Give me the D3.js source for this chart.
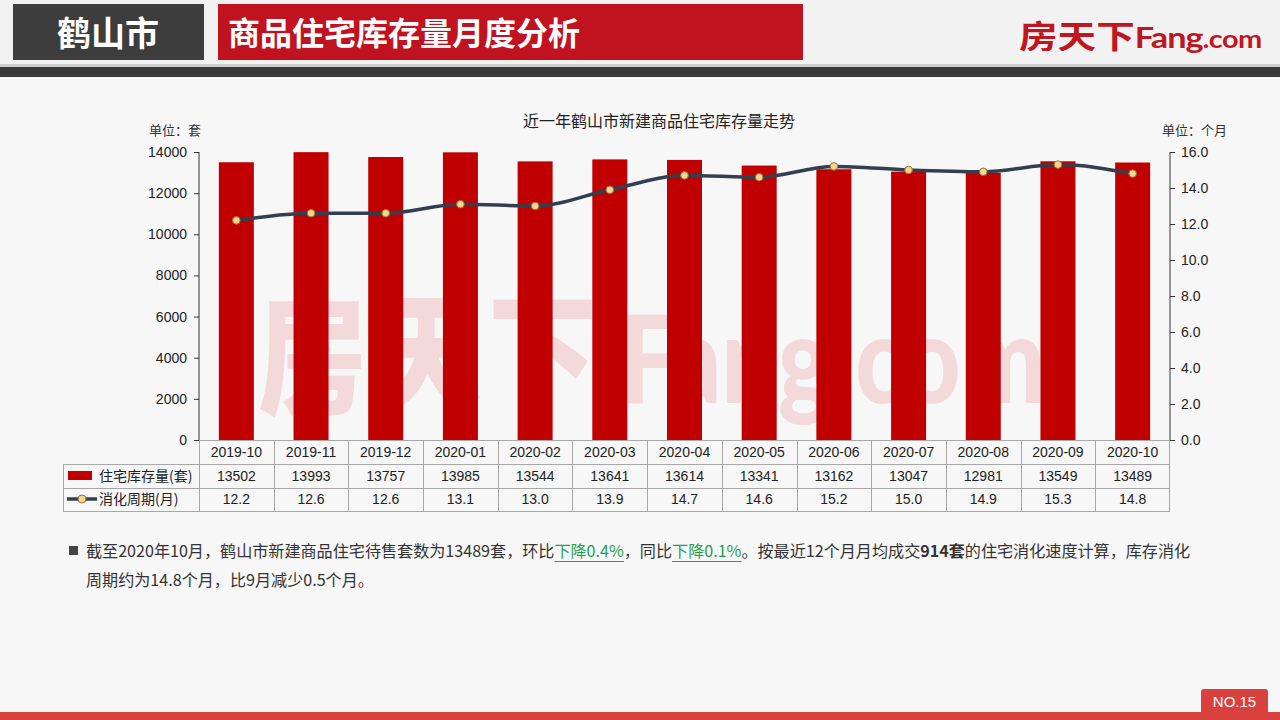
<!DOCTYPE html>
<html><head><meta charset="utf-8">
<script src="https://cdn.jsdelivr.net/npm/d3@7/dist/d3.min.js"></script>
<style>
html,body{margin:0;padding:0;background:#f7f7f7;}
svg{display:block;font-family:"Liberation Sans",Arial,"Noto Sans CJK SC",sans-serif;}
.cjk{font-family:"Noto Sans CJK SC","Liberation Sans",sans-serif;}
</style></head>
<body>
<svg id="c" width="1280" height="720"></svg>
<script>
const months = ["2019-10","2019-11","2019-12","2020-01","2020-02","2020-03","2020-04","2020-05","2020-06","2020-07","2020-08","2020-09","2020-10"];
const stock = [13502,13993,13757,13985,13544,13641,13614,13341,13162,13047,12981,13549,13489];
const cycle = [12.2,12.6,12.6,13.1,13.0,13.9,14.7,14.6,15.2,15.0,14.9,15.3,14.8];
const leftTicks = [0,2000,4000,6000,8000,10000,12000,14000];
const rightTicks = [0,2,4,6,8,10,12,14,16];
const seriesNames = ["住宅库存量(套)","消化周期(月)"];

const svg = d3.select("#c");

function fitTo(sel, x0, x1, yTop, yBot){
  const b = sel.node().getBBox();
  const sx = (x1-x0)/b.width, sy = (yBot-yTop)/b.height;
  sel.attr("transform",`translate(${x0},${yTop}) scale(${sx},${sy}) translate(${-b.x},${-b.y})`);
}

// header
svg.append("rect").attr("x",0).attr("y",0).attr("width",1280).attr("height",66).attr("fill","#f2f2f2");
svg.append("rect").attr("x",13).attr("y",4).attr("width",191).attr("height",56).attr("fill","#3d3d3d");
svg.append("text").attr("class","cjk").attr("x",108).attr("y",46).attr("text-anchor","middle")
  .attr("font-size",34).attr("font-weight","bold").attr("fill","#fff").text("鹤山市");
svg.append("rect").attr("x",218).attr("y",4).attr("width",585).attr("height",56).attr("fill","#c0121f");
svg.append("text").attr("class","cjk").attr("x",228).attr("y",45).attr("font-size",32).attr("font-weight","bold").attr("fill","#fff").text("商品住宅库存量月度分析");
// logo
const logo = svg.append("text").attr("x",1018).attr("y",46).attr("fill","#c0161f");
logo.append("tspan").attr("class","cjk").attr("font-size",36).attr("font-weight","bold").text("房天下");
logo.append("tspan").attr("font-family","Lato, 'Open Sans', sans-serif").attr("font-size",32).attr("font-weight","bold").attr("letter-spacing",-1).text("Fang");
logo.append("tspan").attr("font-family","Lato, 'Open Sans', sans-serif").attr("font-size",27).attr("font-weight","bold").attr("letter-spacing",-0.5).text(".com");
fitTo(logo, 1019, 1262, 11, 57);
svg.append("rect").attr("x",0).attr("y",64).attr("width",1280).attr("height",3).attr("fill","#cfcfcf");
svg.append("rect").attr("x",0).attr("y",67).attr("width",1280).attr("height",10).attr("fill","#3a3a3a");

// scales
const x0 = 199, x1 = 1170, yTop = 152, yBot = 440;
const x = d3.scaleBand().domain(months).range([x0,x1]).paddingInner(0).paddingOuter(0);
const yL = d3.scaleLinear().domain([0,14000]).range([yBot,yTop]);
const yR = d3.scaleLinear().domain([0,16]).range([yBot,yTop]);

// watermark (clipped to plot)
svg.append("clipPath").attr("id","plotclip").append("rect").attr("x",200).attr("y",150).attr("width",970).attr("height",290);
const wmg = svg.append("g").attr("clip-path","url(#plotclip)");
const wm = wmg.append("text").attr("x",0).attr("y",0).attr("fill","#f3d9d9");
wm.append("tspan").attr("class","cjk").attr("font-size",130).attr("font-weight","900").attr("letter-spacing",8).text("房天下");
wm.append("tspan").attr("font-family","Lato, sans-serif").attr("font-size",120).attr("font-weight","900").attr("dx",20).text("Fang.com");
fitTo(wm, 258, 1045, 250, 440);

// bars
const bw = 35;
svg.append("g").selectAll("rect").data(stock).join("rect")
  .attr("x",(d,i)=>x(months[i])+x.bandwidth()/2-bw/2)
  .attr("y",d=>yL(d)).attr("width",bw).attr("height",d=>yBot-yL(d)).attr("fill","#c00000");

// axes
const axL = svg.append("g").attr("transform",`translate(${x0},0)`)
  .call(d3.axisLeft(yL).tickValues(leftTicks).tickFormat(d3.format("d")).tickSizeOuter(0).tickSize(5));
const axR = svg.append("g").attr("transform",`translate(${x1},0)`)
  .call(d3.axisRight(yR).tickValues(rightTicks).tickFormat(d3.format(".1f")).tickSizeOuter(0).tickSize(5));
[axL,axR].forEach(a=>{
  a.selectAll("path,line").attr("stroke","#333");
  a.selectAll("text").attr("font-size",14).attr("fill","#222").attr("font-family","Liberation Sans, Arial, sans-serif");
});
axL.selectAll("text").attr("dx",-4);
axR.selectAll("text").attr("dx",3);
axL.select(".domain").attr("d",`M0,${yTop}V${yBot}`);
axR.select(".domain").attr("d",`M0,${yTop}V${yBot}`);

// line
const line = d3.line().x((d,i)=>x(months[i])+x.bandwidth()/2).y(d=>yR(d)).curve(d3.curveMonotoneX);
svg.append("path").datum(cycle).attr("d",line).attr("fill","none").attr("stroke","#333f4f").attr("stroke-width",3.5);
svg.append("g").selectAll("circle").data(cycle).join("circle")
  .attr("cx",(d,i)=>x(months[i])+x.bandwidth()/2).attr("cy",d=>yR(d)).attr("r",3.8)
  .attr("fill","#f7d488").attr("stroke","#8d7340").attr("stroke-width",1);

// titles
svg.append("text").attr("class","cjk").attr("x",659).attr("y",127).attr("text-anchor","middle").attr("font-size",16).attr("fill","#222").text("近一年鹤山市新建商品住宅库存量走势");
svg.append("text").attr("class","cjk").attr("x",149).attr("y",135).attr("font-size",13).attr("fill","#333").text("单位：套");
svg.append("text").attr("class","cjk").attr("x",1162).attr("y",135).attr("font-size",13).attr("fill","#333").text("单位：个月");

// data table
const tb = svg.append("g");
const rowY = [440,464,488,511];
const lc = "#a8a8a8";
tb.append("line").attr("x1",x0).attr("x2",x1).attr("y1",rowY[0]+0.5).attr("y2",rowY[0]+0.5).attr("stroke",lc);
[1,2,3].forEach(r=>tb.append("line").attr("x1",63).attr("x2",x1).attr("y1",rowY[r]+0.5).attr("y2",rowY[r]+0.5).attr("stroke",lc));
tb.append("line").attr("x1",63.5).attr("x2",63.5).attr("y1",rowY[1]).attr("y2",rowY[3]+0.5).attr("stroke",lc);
months.forEach((m,i)=>tb.append("line").attr("x1",Math.round(x(m))+0.5).attr("x2",Math.round(x(m))+0.5).attr("y1",rowY[0]).attr("y2",rowY[3]).attr("stroke",lc));
tb.append("line").attr("x1",x1-0.5).attr("x2",x1-0.5).attr("y1",rowY[0]).attr("y2",rowY[3]).attr("stroke",lc);
const fs = 14;
tb.selectAll("text.m").data(months).join("text").attr("x",d=>x(d)+x.bandwidth()/2).attr("y",457).attr("text-anchor","middle").attr("font-size",fs).attr("fill","#222").text(d=>d);
tb.selectAll("text.s").data(stock).join("text").attr("x",(d,i)=>x(months[i])+x.bandwidth()/2).attr("y",481).attr("text-anchor","middle").attr("font-size",fs).attr("fill","#222").text(d=>d);
tb.selectAll("text.c").data(cycle).join("text").attr("x",(d,i)=>x(months[i])+x.bandwidth()/2).attr("y",504).attr("text-anchor","middle").attr("font-size",fs).attr("fill","#222").text(d=>d3.format(".1f")(d));
tb.append("rect").attr("x",68).attr("y",471).attr("width",24).attr("height",9).attr("fill","#c00000");
tb.append("text").attr("class","cjk").attr("x",99).attr("y",481).attr("font-size",14).attr("fill","#222").text(seriesNames[0]);
tb.append("line").attr("x1",67).attr("x2",97).attr("y1",499).attr("y2",499).attr("stroke","#333f4f").attr("stroke-width",3.5);
tb.append("circle").attr("cx",82).attr("cy",499).attr("r",4).attr("fill","#f7d488").attr("stroke","#8d7340");
tb.append("text").attr("class","cjk").attr("x",99).attr("y",504).attr("font-size",14).attr("fill","#222").text(seriesNames[1]);

// bottom text
svg.append("rect").attr("x",69).attr("y",546).attr("width",9).attr("height",9).attr("fill","#444");
const t1 = svg.append("text").attr("class","cjk").attr("x",86).attr("y",557).attr("font-size",16.1).attr("fill","#333");
t1.append("tspan").text("截至2020年10月，鹤山市新建商品住宅待售套数为13489套，环比");
t1.append("tspan").attr("fill","#1fa150").attr("id","g1").text("下降0.4%");
t1.append("tspan").text("，同比");
t1.append("tspan").attr("fill","#1fa150").attr("id","g2").text("下降0.1%");
t1.append("tspan").text("。按最近12个月月均成交");
t1.append("tspan").attr("font-weight","bold").text("914套");
t1.append("tspan").text("的住宅消化速度计算，库存消化");
svg.append("text").attr("class","cjk").attr("x",86).attr("y",586).attr("font-size",16.1).attr("fill","#333").text("周期约为14.8个月，比9月减少0.5个月。");
["#g1","#g2"].forEach(id=>{
  const b = svg.select(id).node().getBBox();
  svg.append("line").attr("x1",b.x).attr("x2",b.x+b.width).attr("y1",561.5).attr("y2",561.5).attr("stroke","#1fa150").attr("stroke-width",1);
});

// footer
svg.append("rect").attr("x",0).attr("y",712).attr("width",1280).attr("height",8).attr("fill","#d9413e");
svg.append("rect").attr("x",1201).attr("y",689).attr("width",67).attr("height",26).attr("rx",3).attr("fill","#d9413e");
svg.append("text").attr("x",1234.5).attr("y",707).attr("text-anchor","middle").attr("font-size",15).attr("fill","#fff").text("NO.15");
</script>
</body></html>
